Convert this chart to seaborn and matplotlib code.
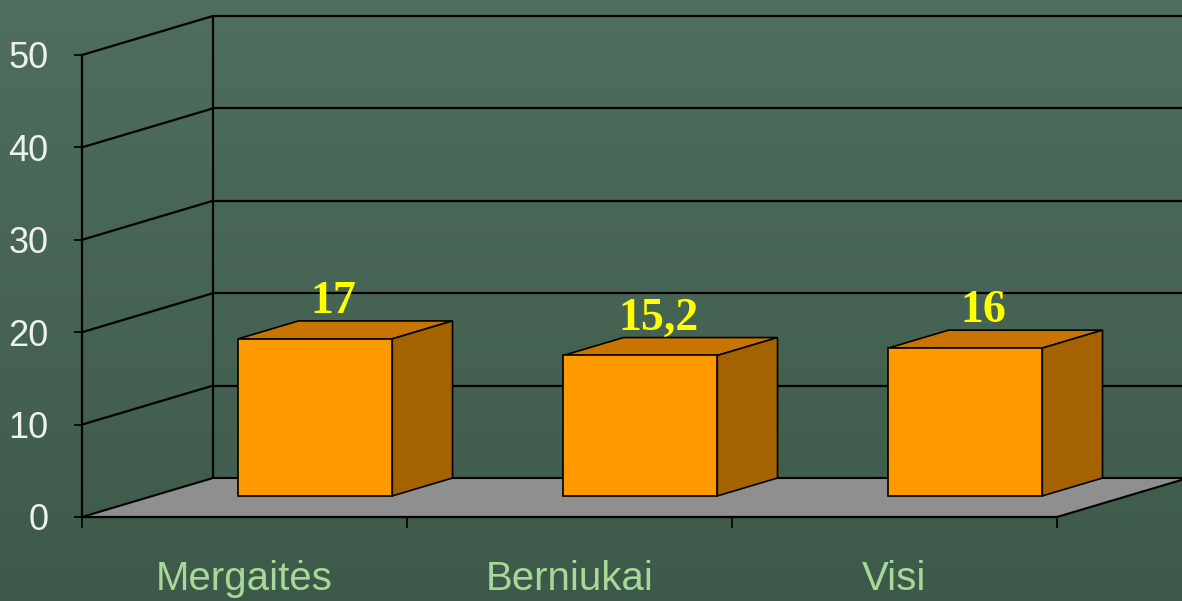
import numpy as np
import seaborn as sns
import matplotlib.pyplot as plt
from matplotlib.patches import Polygon
from matplotlib.colors import LinearSegmentedColormap

kategorijos = ["Mergaitės", "Berniukai", "Visi"]
reiksmes = [17, 15.2, 16]
etiketes = ["17", "15,2", "16"]
y_ticks = [0, 10, 20, 30, 40, 50]

sns.set_style("white")
plt.rcParams['font.family'] = ['Liberation Sans Narrow', 'Liberation Sans', 'DejaVu Sans']

fig = plt.figure(figsize=(11.82, 6.01), dpi=100)

# fonas - tamsiai zalias gradientas
bg = fig.add_axes([0, 0, 1, 1], zorder=-10)
grad = np.linspace(0, 1, 256).reshape(-1, 1)
cmap = LinearSegmentedColormap.from_list("fonas", ["#4f6e5e", "#3d594a"])
bg.imshow(grad, aspect="auto", cmap=cmap, extent=[0, 1, 0, 1])
bg.axis("off")

W, H = 1182, 601
ax = fig.add_axes([82 / W, (H - 517) / H, 975 / W, 462 / H])
ax.set_xlim(-0.5, 2.5)
ax.set_ylim(0, 50)
ax.patch.set_alpha(0)

# gylio poslinkis (pikseliais -> duomenu vienetai)
px_x = 975 / 3
px_y = 462 / 50
ddx, ddy = 131 / px_x, 39 / px_y
f1 = 0.54
bar_w = 0.474

# galine siena ir tinklelis
x_end = 3.2
for y in y_ticks[1:]:
    ax.plot([-0.5 + ddx, x_end], [y + ddy, y + ddy], color="black", lw=1.6, clip_on=False, zorder=1)
    ax.plot([-0.5, -0.5 + ddx], [y, y + ddy], color="black", lw=1.6, clip_on=False, zorder=1)
ax.plot([-0.5 + ddx, -0.5 + ddx], [ddy, 50 + ddy], color="black", lw=1.6, clip_on=False, zorder=1)

# grindys
floor = Polygon([(-0.5, 0), (-0.5 + ddx, ddy), (x_end, ddy), (2.5 + ddx, ddy), (2.5, 0)],
                closed=True, facecolor="#8f8f8f", edgecolor="black", lw=1.5,
                clip_on=False, zorder=2)
ax.add_patch(floor)

sns.barplot(x=kategorijos, y=reiksmes, width=bar_w, color="#ff9900", saturation=1,
            edgecolor="black", linewidth=1.2, ax=ax, zorder=5)
ax.set_xlim(-0.5, 2.5)

for p in ax.patches[1:]:
    x0 = p.get_x() + f1 * ddx
    h = p.get_height()
    b = f1 * ddy
    p.set_x(x0)
    p.set_y(b)
    p.set_clip_on(False)
    x1 = x0 + p.get_width()
    t = b + h
    bx, by = (1 - f1) * ddx, (1 - f1) * ddy
    top = Polygon([(x0, t), (x1, t), (x1 + bx, t + by), (x0 + bx, t + by)],
                  facecolor="#c97400", edgecolor="black", lw=1.2, zorder=4, clip_on=False)
    side = Polygon([(x1, b), (x1 + bx, b + by), (x1 + bx, t + by), (x1, t)],
                   facecolor="#a56300", edgecolor="black", lw=1.2, zorder=4, clip_on=False)
    ax.add_patch(top)
    ax.add_patch(side)

for i, (v, lab) in enumerate(zip(reiksmes, etiketes)):
    ax.text(i + f1 * ddx + 18 / px_x, v + f1 * ddy + 37 / px_y, lab,
            ha="center", va="center", color="#ffff00", fontsize=33,
            fontweight="bold", family="Liberation Serif", zorder=6)

ax.set_yticks(y_ticks)
ax.set_yticklabels([str(t) for t in y_ticks], color="#eef2ee", fontsize=26)
ax.set_xticks(range(3))
ax.set_xticklabels(kategorijos, color="#a8d898", fontsize=29)
ax.set_xticks([-0.5, 0.5, 1.5, 2.5], minor=True)
ax.tick_params(axis="y", direction="out", length=6, width=1.2, color="black", pad=18, left=True)
ax.tick_params(axis="x", which="major", length=0, pad=31)
ax.tick_params(axis="x", which="minor", direction="out", length=8, width=1.2, color="black", bottom=True)

for s in ["top", "right"]:
    ax.spines[s].set_visible(False)
ax.spines["left"].set_color("black")
ax.spines["left"].set_linewidth(1.6)
ax.spines["bottom"].set_color("black")
ax.spines["bottom"].set_linewidth(1.6)
ax.set_xlabel("")
ax.set_ylabel("")

fig.savefig("out.png", dpi=100)
